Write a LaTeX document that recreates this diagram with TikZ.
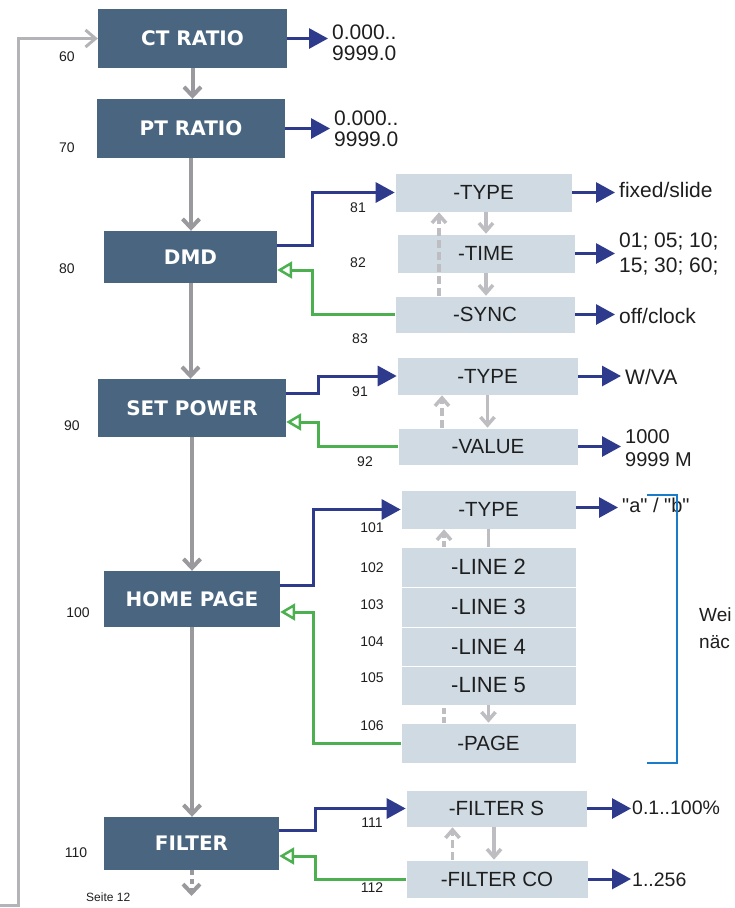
\documentclass[tikz,border=0pt]{standalone}
\usepackage{fontspec}
\setmainfont{Liberation Sans}
\newfontfamily\menufont{DejaVu Sans}
\newfontfamily\quotefont{Liberation Sans}
\usetikzlibrary{positioning, arrows.meta, calc}
\definecolor{slate}{HTML}{496580}
\definecolor{pale}{HTML}{CFDAE3}
\definecolor{ink}{HTML}{1E1E1E}
\definecolor{navy}{HTML}{2E3A8C}
\definecolor{leaf}{HTML}{4CB050}
\definecolor{flowgrey}{HTML}{9A9A9E}
\definecolor{softgrey}{HTML}{BEBEC2}
\definecolor{loopgrey}{HTML}{B4B4B8}
\definecolor{brace}{HTML}{1A7BC9}
\tikzset{
  menubox/.style={fill=slate, text=white, inner sep=0pt,
                  font=\menufont\bfseries\fontsize{20}{24}\selectfont},
  subbox/.style={fill=pale, draw=white, line width=0.6pt, inner sep=0pt, text=ink,
                 font=\fontsize{20.5}{24}\selectfont},
  valtext/.style={anchor=west, align=left, inner xsep=4pt, inner ysep=0pt, text=ink,
                  font=\fontsize{21}{21}\selectfont},
  numtext/.style={inner sep=0pt, text=ink, font=\fontsize{14}{16}\selectfont},
  flowarr/.style={-{Straight Barb[length=9pt,width=17pt]}, draw=flowgrey, line width=4pt},
  looparr/.style={-{Straight Barb[length=10pt,width=17pt]}, draw=loopgrey, line width=3pt},
  subarr/.style={-{Straight Barb[length=8pt,width=14pt]}, draw=softgrey, line width=3.5pt},
  subline/.style={draw=softgrey, line width=3.5pt},
  goarr/.style={-{Triangle[length=19pt,width=20pt]}, draw=navy, line width=3pt},
  backarr/.style={-{Triangle[open,length=15pt,width=17pt,line width=2.5pt]}, draw=leaf,
                  line width=3pt},
}

\begin{document}
\begin{tikzpicture}[x=1pt, y=-1pt]
  \useasboundingbox (0,0) rectangle (734,908);

  % main menu column
  \node[menubox, minimum width=189pt, minimum height=59pt] (ct) at (192.5,38.5) {CT RATIO};
  \node[menubox, minimum width=188pt, minimum height=59pt] (pt) at (191,128.5) {PT RATIO};
  \node[menubox, minimum width=173pt, minimum height=52pt] (dmd) at (190.5,257) {DMD};
  \node[menubox, minimum width=188pt, minimum height=58pt] (setp) at (192,408) {SET POWER};
  \node[menubox, minimum width=176pt, minimum height=56pt] (home) at (192,599) {HOME PAGE};
  \node[menubox, minimum width=175pt, minimum height=53pt] (filter) at (191.5,843.5) {FILTER};
  \coordinate (nextp) at (191.5,896);
  \coordinate (loopin) at (0,905);

  \node[numtext] (n60) at (67,57) {60};
  \node[numtext] (n70) at (67,148) {70};
  \node[numtext] (n80) at (67,269) {80};
  \node[numtext] (n90) at (72,426) {90};
  \node[numtext] (n100) at (78,613) {100};
  \node[numtext] (n110) at (76,853) {110};

  % sub menus
  \node[subbox, minimum width=177pt, minimum height=39pt] (dtype) at (483.5,192.5) {-TYPE};
  \node[subbox, minimum width=178pt, minimum height=39pt] (dtime) at (486,253.5) {-TIME};
  \node[subbox, minimum width=180pt, minimum height=37pt] (dsync) at (485,314.5) {-SYNC};
  \node[subbox, minimum width=181pt, minimum height=38pt] (ptype) at (487.5,376) {-TYPE};
  \node[subbox, minimum width=180pt, minimum height=37pt] (pvalue) at (488,446.5) {-VALUE};
  \node[subbox, minimum width=175pt, minimum height=39pt] (htype) at (488.5,509.5) {-TYPE};
  \node[subbox, minimum width=175pt, minimum height=40pt, font=\fontsize{22}{24}\selectfont]
    (hl2) at (488.5,567) {-LINE 2};
  \node[subbox, minimum width=175pt, minimum height=40pt, font=\fontsize{22}{24}\selectfont]
    (hl3) at (488.5,607) {-LINE 3};
  \node[subbox, minimum width=175pt, minimum height=39pt, font=\fontsize{22}{24}\selectfont]
    (hl4) at (488.5,646.5) {-LINE 4};
  \node[subbox, minimum width=175pt, minimum height=39pt, font=\fontsize{22}{24}\selectfont]
    (hl5) at (488.5,685.5) {-LINE 5};
  \node[subbox, minimum width=175pt, minimum height=40pt] (hpage) at (488.5,743) {-PAGE};
  \node[subbox, minimum width=181pt, minimum height=37pt] (fs) at (496.5,808.5) {-FILTER S};
  \node[subbox, minimum width=182pt, minimum height=38pt] (fco) at (497,879) {-FILTER CO};

  \node[numtext] (n81) at (358,208) {81};
  \node[numtext] (n82) at (358,263) {82};
  \node[numtext] (n83) at (360,339) {83};
  \node[numtext] (n91) at (360,392) {91};
  \node[numtext] (n92) at (365,462) {92};
  \node[numtext] (n101) at (372,528) {101};
  \node[numtext] (n102) at (372,568) {102};
  \node[numtext] (n103) at (372,605) {103};
  \node[numtext] (n104) at (372,642) {104};
  \node[numtext] (n105) at (372,678) {105};
  \node[numtext] (n106) at (372,726) {106};
  \node[numtext] (n111) at (372,823) {111};
  \node[numtext] (n112) at (372,888) {112};

  % values
  \node[valtext] (ctval) at (328,43) {0.000..\\9999.0};
  \node[valtext] (ptval) at (330,128.5) {0.000..\\9999.0};
  \node[valtext] (dtypeval) at (615,190) {fixed/slide};
  \node[valtext, font=\fontsize{21}{25}\selectfont] (dtimeval) at (615,254.5)
    {01; 05; 10;\\15; 30; 60;};
  \node[valtext] (dsyncval) at (615,316) {off/clock};
  \node[valtext] (ptypeval) at (621,377) {W/VA};
  \node[valtext, font=\fontsize{20}{23}\selectfont] (pvalueval) at (621,448.5)
    {1000\\9999 M};
  \node[valtext, font=\quotefont\fontsize{20}{21}\selectfont] (htypeval) at (618,505)
    {"a" / "b"};
  \node[valtext, inner xsep=1pt, font=\fontsize{19.5}{21}\selectfont] (fsval) at (631,808)
    {0.1..100\%};
  \node[valtext, inner xsep=1pt, font=\fontsize{19.5}{21}\selectfont] (fcoval) at (631,880)
    {1..256};
  \node[valtext, font=\fontsize{19}{27}\selectfont] (more) at (695,628) {Wei\\näc};
  \node[numtext, anchor=north west, font=\fontsize{12}{13}\selectfont] (pageno) at (86,893)
    {Seite 12};

  % flow down the main column
  \draw[flowarr] (ct.south) -- (ct.south |- pt.north);
  \draw[flowarr] (pt.south) -- (pt.south |- dmd.north);
  \draw[flowarr] (dmd.south) -- (dmd.south |- setp.north);
  \draw[flowarr] (setp.south) -- (setp.south |- home.north);
  \draw[flowarr] (home.south) -- (home.south |- filter.north);
  \draw[flowarr, dash pattern=on 5pt off 4pt] (filter.south) -- (nextp);
  \draw[looparr] (loopin) -- ++(18,0) |- (ct.west);

  % into and back from the sub menus
  \draw[goarr] ([yshift=12pt]dmd.east) -- ++(35,0) |- (dtype.west);
  \draw[backarr] (dsync.west) -| ([xshift=35pt,yshift=-13pt]dmd.east) -- ([yshift=-13pt]dmd.east);
  \draw[goarr] ([yshift=15pt]setp.east) -- ++(32,0) |- (ptype.west);
  \draw[backarr] (pvalue.west) -| ([xshift=32pt,yshift=-14pt]setp.east) -- ([yshift=-14pt]setp.east);
  \draw[goarr] ([yshift=14pt]home.east) -- ++(33,0) |- (htype.west);
  \draw[backarr] (hpage.west) -| ([xshift=33pt,yshift=-13pt]home.east) -- ([yshift=-13pt]home.east);
  \draw[goarr] ([yshift=13.5pt]filter.east) -- ++(36,0) |- (fs.west);
  \draw[backarr] (fco.west) -| ([xshift=36pt,yshift=-12.5pt]filter.east) -- ([yshift=-12.5pt]filter.east);

  % steps inside the sub menus
  \draw[subarr] (dtime.north |- dtype.south) -- (dtime.north);
  \draw[subarr] (dtime.south) -- (dtime.south |- dsync.north);
  \draw[subarr, dash pattern=on 8pt off 4pt] ([xshift=-46pt]dsync.north) -- ([xshift=-46pt]dsync.north |- dtype.south);
  \draw[subarr] (ptype.south) -- (ptype.south |- pvalue.north);
  \draw[subarr, dash pattern=on 8pt off 4pt] ([xshift=-46pt]pvalue.north) -- ([xshift=-46pt]pvalue.north |- ptype.south);
  \draw[subline] (htype.south) -- (htype.south |- hl2.north);
  \draw[subarr, dash pattern=on 6pt off 3pt] ([xshift=-44.5pt]hl2.north) -- ([xshift=-44.5pt]hl2.north |- htype.south);
  \draw[subarr] (hl5.south) -- (hl5.south |- hpage.north);
  \draw[subline, dash pattern=on 6pt off 3pt] ([xshift=-44.5pt]hpage.north) -- ([xshift=-44.5pt]hpage.north |- hl5.south);
  \draw[subarr] ([xshift=-2.5pt]fs.south) -- ([xshift=-2.5pt]fs.south |- fco.north);
  \draw[subarr, dash pattern=on 8pt off 4pt] ([xshift=-44.5pt]fco.north) -- ([xshift=-44.5pt]fco.north |- fs.south);

  % values out
  \draw[goarr] (ct.east) -- (ct.east -| ctval.west);
  \draw[goarr] (pt.east) -- (pt.east -| ptval.west);
  \draw[goarr] (dtype.east) -- (dtype.east -| dtypeval.west);
  \draw[goarr] (dtime.east) -- (dtime.east -| dtimeval.west);
  \draw[goarr] (dsync.east) -- (dsync.east -| dsyncval.west);
  \draw[goarr] (ptype.east) -- (ptype.east -| ptypeval.west);
  \draw[goarr] (pvalue.east) -- (pvalue.east -| pvalueval.west);
  \draw[goarr] ([yshift=2pt]htype.east) -- ([yshift=2pt]htype.east -| htypeval.west);
  \draw[goarr] (fs.east) -- (fs.east -| fsval.west);
  \draw[goarr] (fco.east) -- (fco.east -| fcoval.west);

  % bracket over the home page items
  \draw[brace, line width=2.5pt] (647,495) -| (677,763) -- (647,763);
\end{tikzpicture}
\end{document}
